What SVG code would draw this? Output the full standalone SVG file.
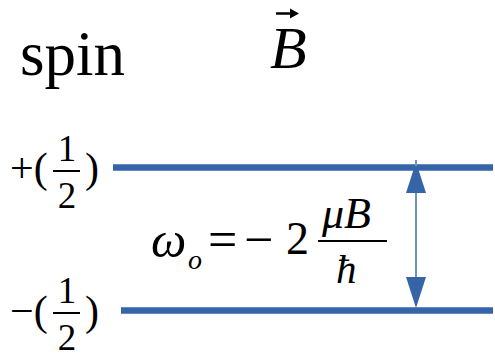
<svg xmlns="http://www.w3.org/2000/svg" width="495" height="357" viewBox="0 0 495 357">
<style>
.r{font-family:"Liberation Serif","Times New Roman",serif;fill:#000}
.i{font-family:"Liberation Serif","Times New Roman",serif;font-style:italic;fill:#000}
.lvl{stroke:#3565a8;stroke-width:6.5;fill:none}
.bar{stroke:#000;stroke-width:2;fill:none}
</style>
<defs>
<marker id="ah" markerWidth="31" markerHeight="20" refX="0" refY="10" orient="auto-start-reverse" markerUnits="userSpaceOnUse" viewBox="0 0 31 20">
<path d="M0,0 L31,10 L0,20 Z" fill="#3565a8"/>
</marker>
</defs>
<rect width="495" height="357" fill="#fff"/>
<g id="title-spin"><text class="r" x="20" y="75" font-size="63">spin</text></g>
<g id="title-B">
<text class="i" x="270" y="68" font-size="60">B</text>
<line x1="276" y1="13.5" x2="292" y2="13.5" stroke="#000" stroke-width="2.5"/>
<path d="M290,8.5 L299,13.5 L290,18.5 Z" fill="#000"/>
</g>
<g id="level-up">
<line class="lvl" x1="113" y1="167.5" x2="493" y2="167.5"/>
</g>
<g id="level-down">
<line class="lvl" x1="121" y1="310.5" x2="493" y2="310.5"/>
</g>
<g id="label-up">
<text class="r" x="10" y="182" font-size="42">+(</text>
<text class="r" x="85" y="182" font-size="42">)</text>
<line class="bar" x1="53" y1="171" x2="80" y2="171"/>
<text class="r" x="67" y="161" font-size="37" text-anchor="middle">1</text>
<text class="r" x="67" y="208" font-size="37" text-anchor="middle">2</text>
</g>
<g id="label-down">
<text class="r" x="10" y="325" font-size="42">−(</text>
<text class="r" x="85" y="325" font-size="42">)</text>
<line class="bar" x1="53" y1="313" x2="80" y2="313"/>
<text class="r" x="67" y="303" font-size="37" text-anchor="middle">1</text>
<text class="r" x="67" y="350" font-size="37" text-anchor="middle">2</text>
</g>
<g id="connectors">
<line x1="416" y1="193" x2="416" y2="277" stroke="#6b93c9" stroke-width="2" marker-start="url(#ah)" marker-end="url(#ah)"/>
<line x1="416" y1="160" x2="416" y2="166" stroke="#6b93c9" stroke-width="2"/>
</g>
<g id="formula">
<text class="i" x="151" y="257" font-size="50">ω</text>
<text class="i" x="188" y="269" font-size="28">o</text>
<text class="r" x="208" y="257" font-size="52">=</text>
<text class="r" x="244" y="257" font-size="52">−</text>
<text class="r" x="286" y="254" font-size="46">2</text>
<line class="bar" x1="318" y1="241" x2="387" y2="241"/>
<text class="i" x="322" y="228" font-size="44">μB</text>
<text class="i" x="336" y="283" font-size="41">ħ</text>
</g>
</svg>
